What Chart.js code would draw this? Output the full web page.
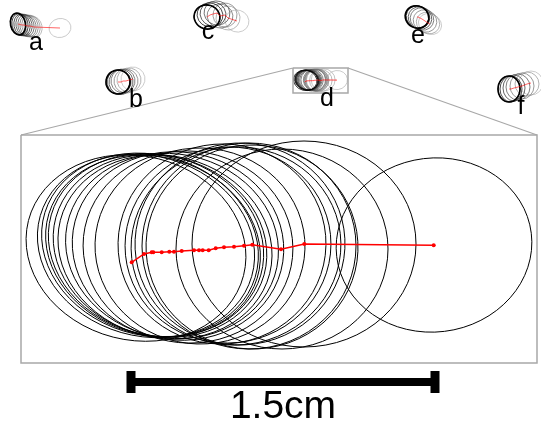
<!DOCTYPE html>
<html>
<head>
<meta charset="utf-8">
<style>
  html, body { margin: 0; padding: 0; background: #fff; }
  #wrap { position: relative; width: 541px; height: 426px; }
</style>
<script src="https://cdn.jsdelivr.net/npm/chart.js@4"></script>
</head>
<body>
<div id="wrap"><canvas id="myChart"></canvas></div>
<script>
// figure units: 1 unit = 1 px of the original figure (y grows downward)

// enlarged panel (d): ellipse outlines
var ellCx  = [136, 146, 150, 153, 156, 160, 165, 172, 178, 188, 200, 222, 228, 236, 240, 249, 252, 282, 304, 434];
var ellCy  = [248, 246, 245, 246, 245, 246, 247, 246, 246, 247, 246, 244, 245, 246, 244, 246, 247, 249, 244, 245];
var ellRx  = [111, 110, 110, 109, 109, 108, 108, 107, 106, 105, 105, 104, 103, 105, 105, 107, 106, 106, 112,  98];
var ellRy  = [ 92,  90,  90,  89,  90,  90,  91,  92,  94,  96,  98, 100,  98,  99, 101, 103, 102, 100, 103,  87];
var ellRot = [0.25, 0.28, 0.3, 0.3, 0.28, 0.27, 0.25, 0.2, 0.15, 0.1, 0.03, -0.08, -0.1, -0.12, -0.05, 0, 0.04, 0, 0, -0.12];

// enlarged panel (d): centroid track
var trackX = [131.7, 144, 151.7, 153.3, 161.7, 169.3, 174, 181.7, 194, 199, 202.7, 208.7, 215.7, 224, 234, 244, 252.3, 281, 304.3, 433.7];
var trackY = [262.3, 254, 252.3, 252.3, 252.3, 251.7, 251.7, 251, 250.3, 250.3, 250.3, 250.3, 248.3, 247.3, 246.7, 245.7, 244.7, 249.3, 244, 245.3];

// thumbnails: [cx, cy, rx, ry] per frame
var thumbA = [[18,24,7.5,11],[20,24.5,8,11],[22,25,8,11],[24,25,8,11],[26,25.5,8,11],[28,26,8,11],[30,26,8,11],[32,26.5,8,11],[34,27,8,10.5],[60,28,11,9.5]];
var thumbB = [[118,82,12,12],[119,82,12,12],[121,82,12,12.5],[123,81,12,12],[126,81,12,12],[129,80,12,12],[133,79,12,12]];
var thumbC = [[207,17,13,12],[210,15,13,12],[213,14,13,12],[217,13,13,12],[220,16,13,12],[225,15,12,12],[228,18,12,12],[237,21,12,11]];
var thumbE = [[417,17,12,11],[418,17,12,11],[420,18,12,11],[422,19,12,11],[425,21,12,11],[428,23,12,10.5],[430,24,12,10]];
var thumbF = [[509,89,11,13],[511,89,11,13],[514,88,11,13],[518,87,12,13],[522,86,12,13],[527,84,12,12],[531,83,12,12]];
var thumbRot = [-0.2, 0.2, 0.3, 0.5, 0];

var labelText = ['a', 'b', 'c', 'd', 'e', 'f'];
var labelX = [36, 136, 208, 327, 418, 521];
var labelY = [43, 100, 32, 99, 36, 107];

// zoom box for d (small) and the enlarged panel
var smallBox = [293, 68, 348, 93];
var bigBox = [21, 135, 537, 363];

// scale bar
var barX = [131, 435];
var barY = 382;
var barLabel = '1.5cm';

var thumbs = [thumbA, thumbB, thumbC, thumbE, thumbF];

// d thumbnail = enlarged panel mapped into the small box
function toSmallX(v) { return smallBox[0] + (v - bigBox[0]) * (smallBox[2] - smallBox[0]) / (bigBox[2] - bigBox[0]); }
function toSmallY(v) { return smallBox[1] + (v - bigBox[1]) * (smallBox[3] - smallBox[1]) / (bigBox[3] - bigBox[1]); }

function greyFor(i, n) {
  var g = Math.round(n > 1 ? 190 * i / (n - 1) : 0);
  return 'rgb(' + g + ',' + g + ',' + g + ')';
}

var datasets = [];
function line(points, color, width, extra) {
  var ds = { data: points, showLine: true, borderColor: color, backgroundColor: color,
             borderWidth: width, pointRadius: 0, tension: 0 };
  for (var k in extra) ds[k] = extra[k];
  datasets.push(ds);
}

// thumbnail tracks
thumbs.forEach(function (t) {
  line(t.map(function (p) { return { x: p[0], y: p[1] }; }), 'rgba(255,0,0,0.6)', 1);
});
line(trackX.map(function (v, i) { return { x: toSmallX(v), y: toSmallY(trackY[i]) }; }), 'rgba(255,0,0,0.7)', 1);

// zoom box + projection lines
var grey = '#a8a8a8';
line([{x:smallBox[0],y:smallBox[1]},{x:smallBox[2],y:smallBox[1]},{x:smallBox[2],y:smallBox[3]},{x:smallBox[0],y:smallBox[3]},{x:smallBox[0],y:smallBox[1]}], grey, 1.5);
line([{x:bigBox[0],y:bigBox[1]},{x:bigBox[2],y:bigBox[1]},{x:bigBox[2],y:bigBox[3]},{x:bigBox[0],y:bigBox[3]},{x:bigBox[0],y:bigBox[1]}], grey, 1.5);
line([{x:bigBox[0],y:bigBox[1]},{x:smallBox[0],y:smallBox[1]}], grey, 1.2);
line([{x:bigBox[2],y:bigBox[1]},{x:smallBox[2],y:smallBox[1]}], grey, 1.2);

// main track
line(trackX.map(function (v, i) { return { x: v, y: trackY[i] }; }), '#ff0000', 1.5, { pointRadius: 2, pointBorderWidth: 0 });

// scale bar
line([{x:barX[0],y:barY},{x:barX[1],y:barY}], '#000', 8, { borderCapStyle: 'butt' });
line([{x:barX[0],y:barY-11},{x:barX[0],y:barY+11}], '#000', 9, { borderCapStyle: 'butt' });
line([{x:barX[1],y:barY-11},{x:barX[1],y:barY+11}], '#000', 9, { borderCapStyle: 'butt' });

var figurePlugin = {
  id: 'figure',
  beforeDatasetsDraw: function (chart) {
    var ctx = chart.ctx, sx = chart.scales.x, sy = chart.scales.y;
    function ell(cx, cy, rx, ry, rot, color, w) {
      var px = sx.getPixelForValue(cx), py = sy.getPixelForValue(cy);
      var prx = Math.abs(sx.getPixelForValue(cx + rx) - px);
      var pry = Math.abs(sy.getPixelForValue(cy + ry) - py);
      ctx.beginPath();
      ctx.ellipse(px, py, prx, pry, rot, 0, Math.PI * 2);
      ctx.strokeStyle = color;
      ctx.lineWidth = w;
      ctx.stroke();
    }
    ctx.save();
    // enlarged panel
    for (var i = 0; i < ellCx.length; i++) {
      ell(ellCx[i], ellCy[i], ellRx[i], ellRy[i], ellRot[i], '#000', 1);
    }
    // thumbnails, darkest first frame on top
    var n = ellCx.length;
    var kx = (smallBox[2] - smallBox[0]) / (bigBox[2] - bigBox[0]);
    var ky = (smallBox[3] - smallBox[1]) / (bigBox[3] - bigBox[1]);
    for (var i = n - 1; i >= 0; i--) {
      ell(toSmallX(ellCx[i]), toSmallY(ellCy[i]), ellRx[i] * kx, ellRy[i] * ky, ellRot[i], greyFor(i, n), 0.8);
    }
    thumbs.forEach(function (t, k) {
      for (var i = t.length - 1; i >= 0; i--) {
        ell(t[i][0], t[i][1], t[i][2], t[i][3], thumbRot[k], greyFor(i, t.length), 0.8);
      }
      ell(t[0][0], t[0][1], t[0][2], t[0][3], thumbRot[k], '#000', 1.6);
    });
    ctx.restore();
  },
  afterDatasetsDraw: function (chart) {
    var ctx = chart.ctx, sx = chart.scales.x, sy = chart.scales.y;
    ctx.save();
    ctx.fillStyle = '#000';
    ctx.textAlign = 'center';
    ctx.textBaseline = 'middle';
    ctx.font = '25px "Liberation Sans", Arial, sans-serif';
    labelText.forEach(function (s, i) {
      ctx.fillText(s, sx.getPixelForValue(labelX[i]), sy.getPixelForValue(labelY[i]));
    });
    ctx.textBaseline = 'alphabetic';
    ctx.font = '39px "Liberation Sans", Arial, sans-serif';
    ctx.fillText(barLabel, sx.getPixelForValue((barX[0] + barX[1]) / 2), sy.getPixelForValue(418));
    ctx.restore();
  }
};

new Chart(document.getElementById('myChart'), {
  type: 'scatter',
  data: { datasets: datasets },
  options: {
    responsive: true,
    maintainAspectRatio: false,
    animation: false,
    layout: { padding: 0, autoPadding: false },
    plugins: { legend: { display: false }, tooltip: { enabled: false } },
    scales: {
      x: { type: 'linear', min: 0, max: 541, display: false },
      y: { type: 'linear', min: 0, max: 426, reverse: true, display: false }
    }
  },
  plugins: [figurePlugin]
});
</script>
</body>
</html>
